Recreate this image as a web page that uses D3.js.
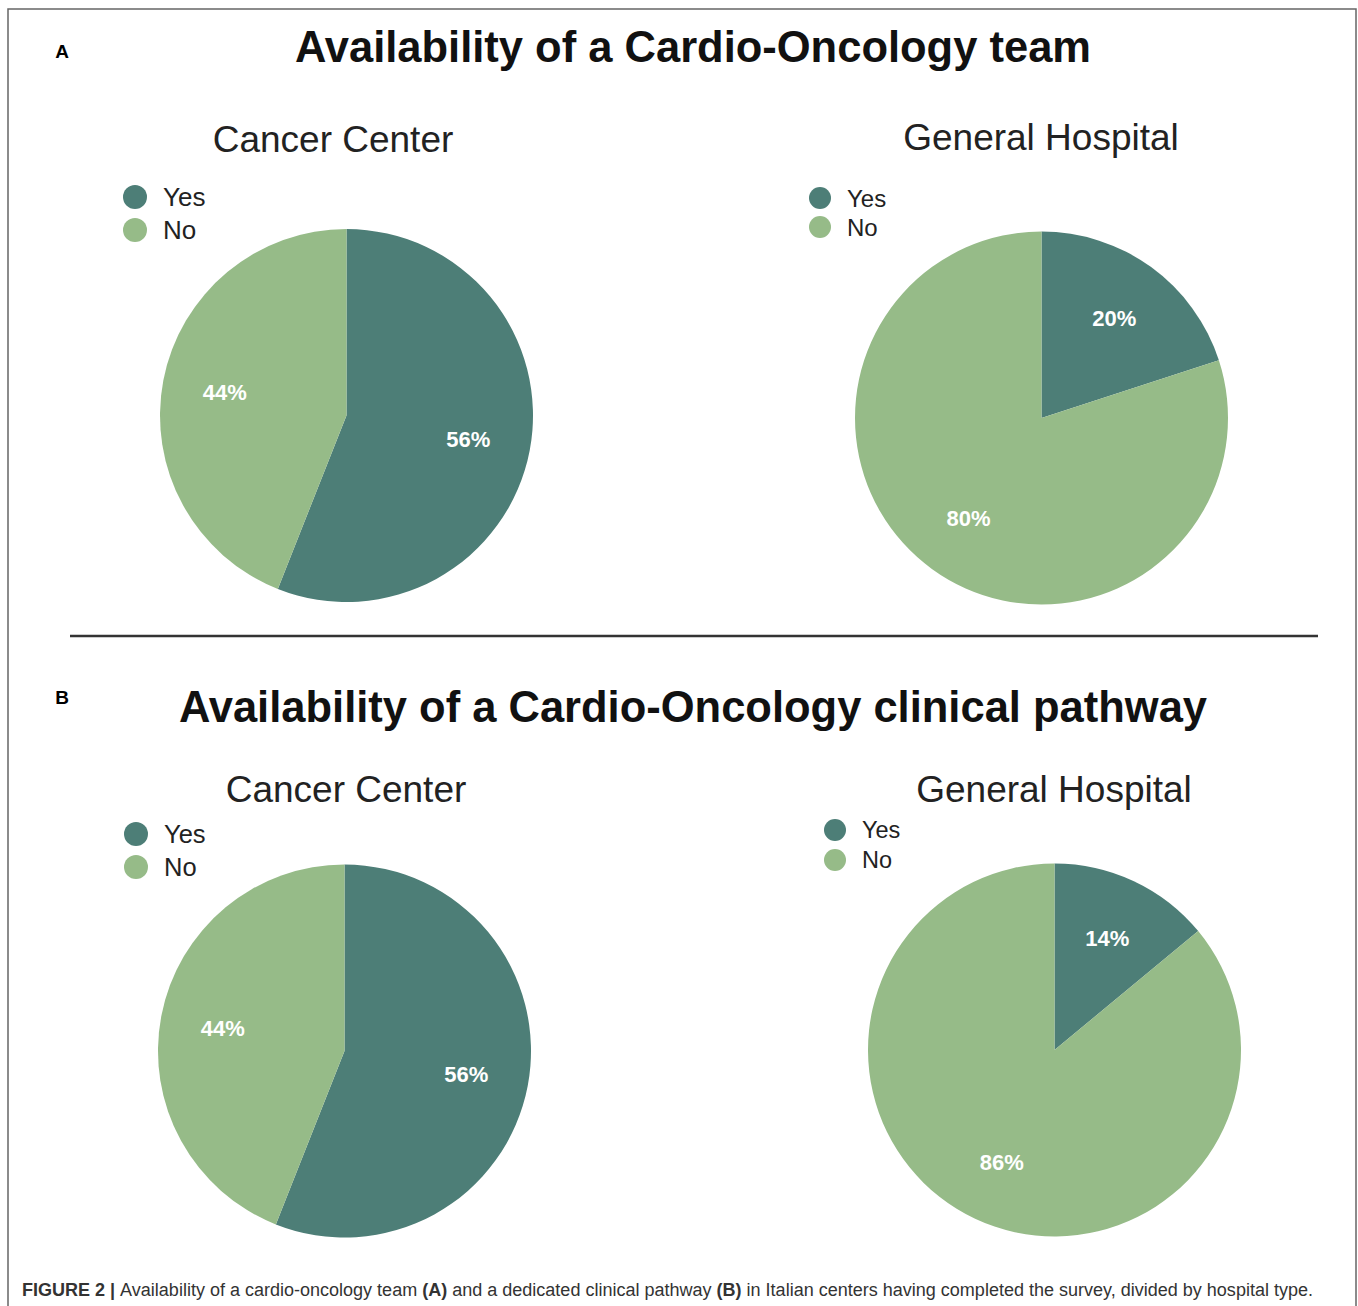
<!DOCTYPE html>
<html>
<head>
<meta charset="utf-8">
<script src="https://cdn.jsdelivr.net/npm/d3@7"></script>
<style>
  body { margin: 0; background: #fff; }
  svg { display: block; font-family: "Liberation Sans", Arial, sans-serif; }
</style>
</head>
<body>
<div id="chart"></div>
<script>
// data
const panelLetters = ["A", "B"];
const panelTitles = ["Availability of a Cardio-Oncology team", "Availability of a Cardio-Oncology clinical pathway"];
const hospitalTypes = ["Cancer Center", "General Hospital"];
const answers = ["Yes", "No"];
const teamYes = [56, 20];
const teamNo = [44, 80];
const pathwayYes = [56, 14];
const pathwayNo = [44, 86];
const caption = ["FIGURE 2 | ", "Availability of a cardio-oncology team ", "(A)", " and a dedicated clinical pathway ", "(B)", " in Italian centers having completed the survey, divided by hospital type."];

const W = 1358, H = 1306;
const colors = d3.scaleOrdinal().domain(answers).range(["#4d7e77", "#96bb88"]);

const svg = d3.select("#chart").append("svg")
    .attr("width", W)
    .attr("height", H);

// frame
svg.append("path")
    .attr("d", "M8," + H + "V9H1356V" + H)
    .attr("fill", "none")
    .attr("stroke", "#666")
    .attr("stroke-width", 1.5);

// separator
svg.append("line")
    .attr("x1", 70).attr("x2", 1318)
    .attr("y1", 636).attr("y2", 636)
    .attr("stroke", "#333")
    .attr("stroke-width", 2.5);

// layout for each panel / pie
const panelY = [62, 722];
const letterY = [58, 704];
const pies = [
    [ {cx: 346.5, cy: 415.5, sub: [333, 152], leg: [135, 197, 33, 12, 26]},
      {cx: 1041.5, cy: 418, sub: [1041, 150], leg: [820, 198, 29, 11, 24]} ],
    [ {cx: 344.5, cy: 1051, sub: [346, 802], leg: [136, 834, 33, 12, 25.5]},
      {cx: 1054.5, cy: 1050, sub: [1054, 802], leg: [835, 830, 30, 11, 23.5]} ]
];
const values = [[teamYes, teamNo], [pathwayYes, pathwayNo]];
const R = 186.5;

const pie = d3.pie().sort(null).value(d => d.value);
const arc = d3.arc().innerRadius(0).outerRadius(R);
const labelArc = d3.arc().innerRadius(124).outerRadius(124);

panelLetters.forEach((letter, p) => {
    svg.append("text")
        .attr("x", 62).attr("y", letterY[p])
        .attr("text-anchor", "middle")
        .attr("font-weight", "bold")
        .attr("font-size", 19)
        .text(letter);

    svg.append("text")
        .attr("x", 693).attr("y", panelY[p])
        .attr("text-anchor", "middle")
        .attr("font-weight", "bold")
        .attr("font-size", 43.5)
        .attr("fill", "#111")
        .text(panelTitles[p]);

    hospitalTypes.forEach((h, i) => {
        const cfg = pies[p][i];
        const data = answers.map((a, k) => ({answer: a, value: values[p][k][i]}));

        svg.append("text")
            .attr("x", cfg.sub[0]).attr("y", cfg.sub[1])
            .attr("text-anchor", "middle")
            .attr("font-size", 37)
            .attr("fill", "#222")
            .text(h);

        // legend
        const leg = svg.append("g");
        answers.forEach((a, k) => {
            const y = cfg.leg[1] + k * cfg.leg[2];
            leg.append("circle")
                .attr("cx", cfg.leg[0]).attr("cy", y)
                .attr("r", cfg.leg[3])
                .attr("fill", colors(a));
            leg.append("text")
                .attr("x", cfg.leg[0] + cfg.leg[3] + 16).attr("y", y)
                .attr("dy", "0.36em")
                .attr("font-size", cfg.leg[4])
                .attr("fill", "#222")
                .text(a);
        });

        const g = svg.append("g")
            .attr("transform", "translate(" + cfg.cx + "," + cfg.cy + ")");
        const arcs = pie(data);
        g.selectAll("path")
            .data(arcs)
            .join("path")
            .attr("d", arc)
            .attr("fill", d => colors(d.data.answer));
        g.selectAll("text")
            .data(arcs)
            .join("text")
            .attr("transform", d => "translate(" + labelArc.centroid(d) + ")")
            .attr("text-anchor", "middle")
            .attr("dy", "0.36em")
            .attr("font-size", 22)
            .attr("font-weight", "bold")
            .attr("fill", "#fff")
            .text(d => d.data.value + "%");
    });
});

// caption
const cap = svg.append("text")
    .attr("x", 22).attr("y", 1296)
    .attr("font-size", 18)
    .attr("fill", "#333")
    .attr("textLength", 1291)
    .attr("lengthAdjust", "spacingAndGlyphs");
caption.forEach((t, i) => {
    cap.append("tspan")
        .attr("font-weight", (i === 0 || i === 2 || i === 4) ? "bold" : "normal")
        .text(t);
});
</script>
</body>
</html>
